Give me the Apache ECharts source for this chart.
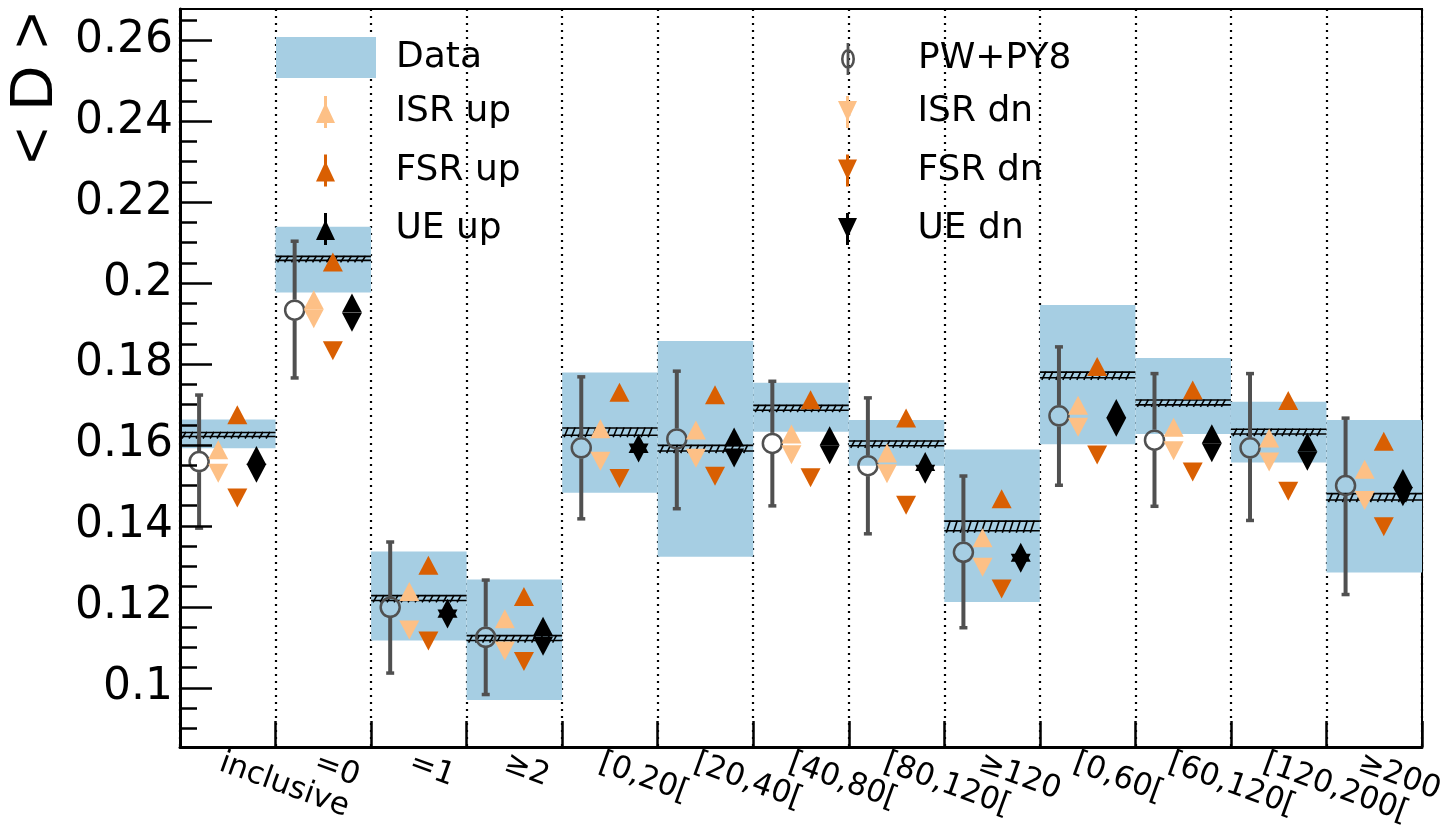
<!DOCTYPE html>
<html>
<head>
<meta charset="utf-8">
<script src="https://cdn.jsdelivr.net/npm/echarts@6/dist/echarts.min.js"></script>
<style>
html,body{margin:0;padding:0;background:#fff;}
#chart{width:1447px;height:830px;}
</style>
</head>
<body>
<div id="chart"></div>
<script>
// ---- data ----
const categories = ['inclusive','=0','=1','\u22652','[0,20[','[20,40[','[40,80[','[80,120[','\u2265120','[0,60[','[60,120[','[120,200[','\u2265200'];

const dataVal  = [0.1626, 0.2061, 0.1222, 0.1123, 0.1633, 0.1592, 0.1692, 0.1604, 0.1400, 0.1773, 0.1705, 0.1633, 0.1472];
const dataLo   = [0.1592, 0.1977, 0.1117, 0.0970, 0.1482, 0.1324, 0.1633, 0.1549, 0.1212, 0.1602, 0.1627, 0.1557, 0.1285];
const dataHi   = [0.1663, 0.2139, 0.1337, 0.1268, 0.1779, 0.1857, 0.1754, 0.1662, 0.1589, 0.1946, 0.1815, 0.1707, 0.1662];
const dataStat = [0.0005, 0.0005, 0.0006, 0.0006, 0.0009, 0.0007, 0.0006, 0.0006, 0.0012, 0.0007, 0.0006, 0.0006, 0.0008];

const pwVal = [0.1559, 0.1933, 0.1199, 0.1125, 0.1593, 0.1615, 0.1604, 0.1549, 0.1335, 0.1672, 0.1612, 0.1593, 0.1500];
const pwLo  = [0.1394, 0.1765, 0.1036, 0.0983, 0.1417, 0.1442, 0.1449, 0.1380, 0.1148, 0.1500, 0.1448, 0.1413, 0.1230];
const pwHi  = [0.1724, 0.2104, 0.1361, 0.1267, 0.1769, 0.1783, 0.1758, 0.1717, 0.1524, 0.1843, 0.1777, 0.1777, 0.1667];

const isrUp = [0.1588, 0.1959, 0.1238, 0.1171, 0.1640, 0.1637, 0.1627, 0.1580, 0.1371, 0.1698, 0.1644, 0.1617, 0.1540];
const isrDn = [0.1530, 0.1912, 0.1143, 0.1091, 0.1560, 0.1567, 0.1576, 0.1529, 0.1298, 0.1644, 0.1586, 0.1558, 0.1463];
const fsrUp = [0.1675, 0.2052, 0.1303, 0.1226, 0.1730, 0.1724, 0.1712, 0.1667, 0.1467, 0.1794, 0.1736, 0.1710, 0.1609];
const fsrDn = [0.1469, 0.1833, 0.1116, 0.1065, 0.1517, 0.1523, 0.1519, 0.1451, 0.1244, 0.1575, 0.1533, 0.1486, 0.1398];
const ueUp  = [0.1574, 0.1951, 0.1197, 0.1152, 0.1604, 0.1620, 0.1623, 0.1559, 0.1335, 0.1690, 0.1628, 0.1607, 0.1517];
const ueDn  = [0.1530, 0.1903, 0.1170, 0.1103, 0.1580, 0.1568, 0.1576, 0.1528, 0.1308, 0.1644, 0.1581, 0.1560, 0.1472];

const yTicks = [0.10, 0.12, 0.14, 0.16, 0.18, 0.20, 0.22, 0.24, 0.26];
const yMinor = [0.09, 0.095, 0.105, 0.11, 0.115, 0.125, 0.13, 0.135, 0.145, 0.15, 0.155, 0.165, 0.17, 0.175,
                0.185, 0.19, 0.195, 0.205, 0.21, 0.215, 0.225, 0.23, 0.235, 0.245, 0.25, 0.255, 0.265];
const yMin = 0.0854, yMax = 0.2677;

// ---- styling ----
const C_BAND = '#a6cee3', C_ISR = '#fdc086', C_FSR = '#d95f02', C_UE = '#000000', C_PW = '#505050';
const FONT = 'DejaVu Sans';
const OFF = {pw: 0.2, isr: 0.4, fsr: 0.6, ue: 0.8};

const ICON_UP = 'path://M8.5,0 L11.5,0 L11.5,10 L19.5,27 L11.5,27 L11.5,32 L8.5,32 L8.5,27 L0.5,27 L8.5,10 Z';
const ICON_DN = 'path://M8.5,32 L11.5,32 L11.5,22 L19.5,5 L11.5,5 L11.5,0 L8.5,0 L8.5,5 L0.5,5 L8.5,22 Z';
const ICON_PW = 'path://M0,16 A7,10 0 1,1 14,16 A7,10 0 1,1 0,16 Z M2.6,16 A4.4,7.4 0 1,0 11.4,16 A4.4,7.4 0 1,0 2.6,16 Z M5.6,0 L8.4,0 L8.4,32 L5.6,32 Z';

function pts(arr, off) { return arr.map((v, i) => [i + off, v]); }

function renderBand(params, api) {
  const i = api.value(0);
  const a = api.coord([i, api.value(2)]);
  const b = api.coord([i + 1, api.value(1)]);
  return {type: 'rect', shape: {x: a[0], y: a[1], width: b[0] - a[0], height: b[1] - a[1]},
          style: {fill: api.visual('color')}};
}

function renderHatch(params, api) {
  const i = api.value(0), v = api.value(1), e = api.value(2);
  const a = api.coord([i, v + e]);
  const b = api.coord([i + 1, v - e]);
  const x0 = a[0], x1 = b[0], yT = a[1], yB = b[1];
  let d = '';
  for (let x = x0 + 2; x < x1 - 4; x += 7) {
    d += 'M' + x + ',' + (yB + 2) + 'L' + (x + 4) + ',' + (yT - 0.5);
  }
  return {type: 'group', children: [
    {type: 'line', shape: {x1: x0, y1: yT, x2: x1, y2: yT}, style: {stroke: '#000', lineWidth: 1.6}},
    {type: 'line', shape: {x1: x0, y1: yB, x2: x1, y2: yB}, style: {stroke: '#000', lineWidth: 1.6}},
    {type: 'path', shape: {pathData: d}, style: {stroke: '#000', lineWidth: 1.6, fill: null}}
  ]};
}

function renderErr(params, api) {
  const x = api.value(0);
  const pv = api.coord([x, api.value(1)]);
  const pl = api.coord([x, api.value(2)]);
  const ph = api.coord([x, api.value(3)]);
  const r = 10.5, cx = pv[0];
  const st = {stroke: C_PW, lineWidth: 4};
  return {type: 'group', children: [
    {type: 'line', shape: {x1: cx, y1: ph[1], x2: cx, y2: pv[1] - r}, style: st},
    {type: 'line', shape: {x1: cx, y1: pv[1] + r, x2: cx, y2: pl[1]}, style: st},
    {type: 'rect', shape: {x: cx - 4, y: ph[1] - 1.5, width: 8, height: 3.5}, style: {fill: C_PW}},
    {type: 'rect', shape: {x: cx - 4, y: pl[1] - 2, width: 8, height: 3.5}, style: {fill: C_PW}}
  ]};
}

function tri(name, arr, off, color, down) {
  return {type: 'scatter', name: name, data: pts(arr, off), symbol: 'triangle',
          symbolSize: [20, 19], symbolRotate: down ? 180 : 0,
          itemStyle: {color: color, opacity: 1}, z: 5, silent: true};
}

const legText = {fontFamily: FONT, fontSize: 36, color: '#000', lineHeight: 32};

const option = {
  animation: false,
  backgroundColor: '#fff',
  grid: [
    {left: 180, right: 25, top: 9, bottom: 83, show: true, borderColor: '#000', borderWidth: 2, backgroundColor: 'transparent'},
    {left: 173, right: 32, top: 9, bottom: 83, show: false}
  ],
  xAxis: [
    {type: 'value', gridIndex: 0, min: 0, max: 13, interval: 1, position: 'bottom', z: 10,
     axisLine: {show: true, lineStyle: {color: '#000', width: 3}},
     axisTick: {show: true, inside: true, length: 26, lineStyle: {color: '#000', width: 2.5}},
     axisLabel: {show: false}, splitLine: {show: false}},
    {type: 'value', gridIndex: 0, min: 0, max: 13, interval: 1, position: 'top', z: 0,
     axisLine: {show: false}, axisTick: {show: false}, axisLabel: {show: false},
     splitLine: {show: true, lineStyle: {color: '#000', width: 2.2, type: [2, 5]}}},
    {type: 'category', gridIndex: 1, data: categories, boundaryGap: true, position: 'bottom',
     axisLine: {show: false}, axisTick: {show: false}, splitLine: {show: false},
     axisLabel: {show: true, interval: 0, rotate: -20, margin: 20, fontFamily: FONT, fontSize: 31, color: '#000'}}
  ],
  yAxis: [
    {type: 'value', gridIndex: 0, min: yMin, max: yMax, position: 'left', z: 10,
     axisLine: {show: true, lineStyle: {color: '#000', width: 3}},
     axisTick: {show: true, inside: true, length: 32, customValues: yTicks, lineStyle: {color: '#000', width: 2.5}},
     axisLabel: {show: true, customValues: yTicks, margin: 7, fontFamily: FONT, fontSize: 44, color: '#000',
                 formatter: v => String(+Number(v).toFixed(3))},
     splitLine: {show: false}},
    {type: 'value', gridIndex: 0, min: yMin, max: yMax, position: 'left', z: 10,
     axisLine: {show: false},
     axisTick: {show: true, inside: true, length: 17, customValues: yMinor, lineStyle: {color: '#000', width: 2.5}},
     axisLabel: {show: false}, splitLine: {show: false}},
    {type: 'value', gridIndex: 1, show: false, min: 0, max: 1}
  ],
  legend: [
    {left: 276, top: 37, orient: 'vertical', padding: 0, itemWidth: 100, itemHeight: 41, selectedMode: false,
     data: [{name: 'Data', icon: 'path://M0,0 L100,0 L100,41 L0,41 Z', itemStyle: {color: C_BAND}}],
     textStyle: Object.assign({}, legText, {padding: [0, 0, 0, 15]})},
    {left: 316, top: 94, orient: 'vertical', padding: 0, itemWidth: 20, itemHeight: 32, itemGap: 22.5, selectedMode: false,
     data: [{name: 'ISR up', icon: ICON_UP}, {name: 'FSR up', icon: ICON_UP}, {name: 'UE up', icon: ICON_UP}],
     textStyle: Object.assign({}, legText, {padding: [0, 0, 0, 55]})},
    {left: 841, top: 41, orient: 'vertical', padding: 0, itemWidth: 14, itemHeight: 32, selectedMode: false,
     data: [{name: 'PW+PY8', icon: ICON_PW, itemStyle: {color: C_PW, borderWidth: 0}}],
     textStyle: Object.assign({}, legText, {padding: [0, 0, 0, 58]})},
    {left: 838, top: 94, orient: 'vertical', padding: 0, itemWidth: 20, itemHeight: 32, itemGap: 22.5, selectedMode: false,
     data: [{name: 'ISR dn', icon: ICON_DN}, {name: 'FSR dn', icon: ICON_DN}, {name: 'UE dn', icon: ICON_DN}],
     textStyle: Object.assign({}, legText, {padding: [0, 0, 0, 55]})}
  ],
  graphic: [
    {type: 'text', x: 35, y: 88, rotation: Math.PI / 2, z: 20,
     style: {text: '< D >', fontFamily: "'Liberation Sans Narrow', 'Liberation Sans', sans-serif", fontSize: 62,
             fill: '#000', align: 'center', verticalAlign: 'middle'}}
  ],
  series: [
    {type: 'custom', name: 'Data', renderItem: renderBand, itemStyle: {color: C_BAND}, z: 1, silent: true,
     data: categories.map((c, i) => [i, dataLo[i], dataHi[i]])},
    {type: 'custom', name: 'Data stat', renderItem: renderHatch, z: 2, silent: true,
     data: categories.map((c, i) => [i, dataVal[i], dataStat[i]])},
    {type: 'custom', name: 'PW+PY8 err', renderItem: renderErr, z: 3, silent: true,
     data: categories.map((c, i) => [i + OFF.pw, pwVal[i], pwLo[i], pwHi[i]])},
    {type: 'scatter', name: 'PW+PY8', data: pts(pwVal, OFF.pw), symbol: 'circle', symbolSize: 19, z: 4, silent: true,
     itemStyle: {color: 'rgba(0,0,0,0)', borderColor: C_PW, borderWidth: 2.5, opacity: 1}},
    tri('ISR up', isrUp, OFF.isr, C_ISR, false),
    tri('ISR dn', isrDn, OFF.isr, C_ISR, true),
    tri('FSR up', fsrUp, OFF.fsr, C_FSR, false),
    tri('FSR dn', fsrDn, OFF.fsr, C_FSR, true),
    tri('UE up', ueUp, OFF.ue, C_UE, false),
    tri('UE dn', ueDn, OFF.ue, C_UE, true)
  ]
};

const chart = echarts.init(document.getElementById('chart'), null, {renderer: 'canvas'});
chart.setOption(option);
</script>
</body>
</html>
